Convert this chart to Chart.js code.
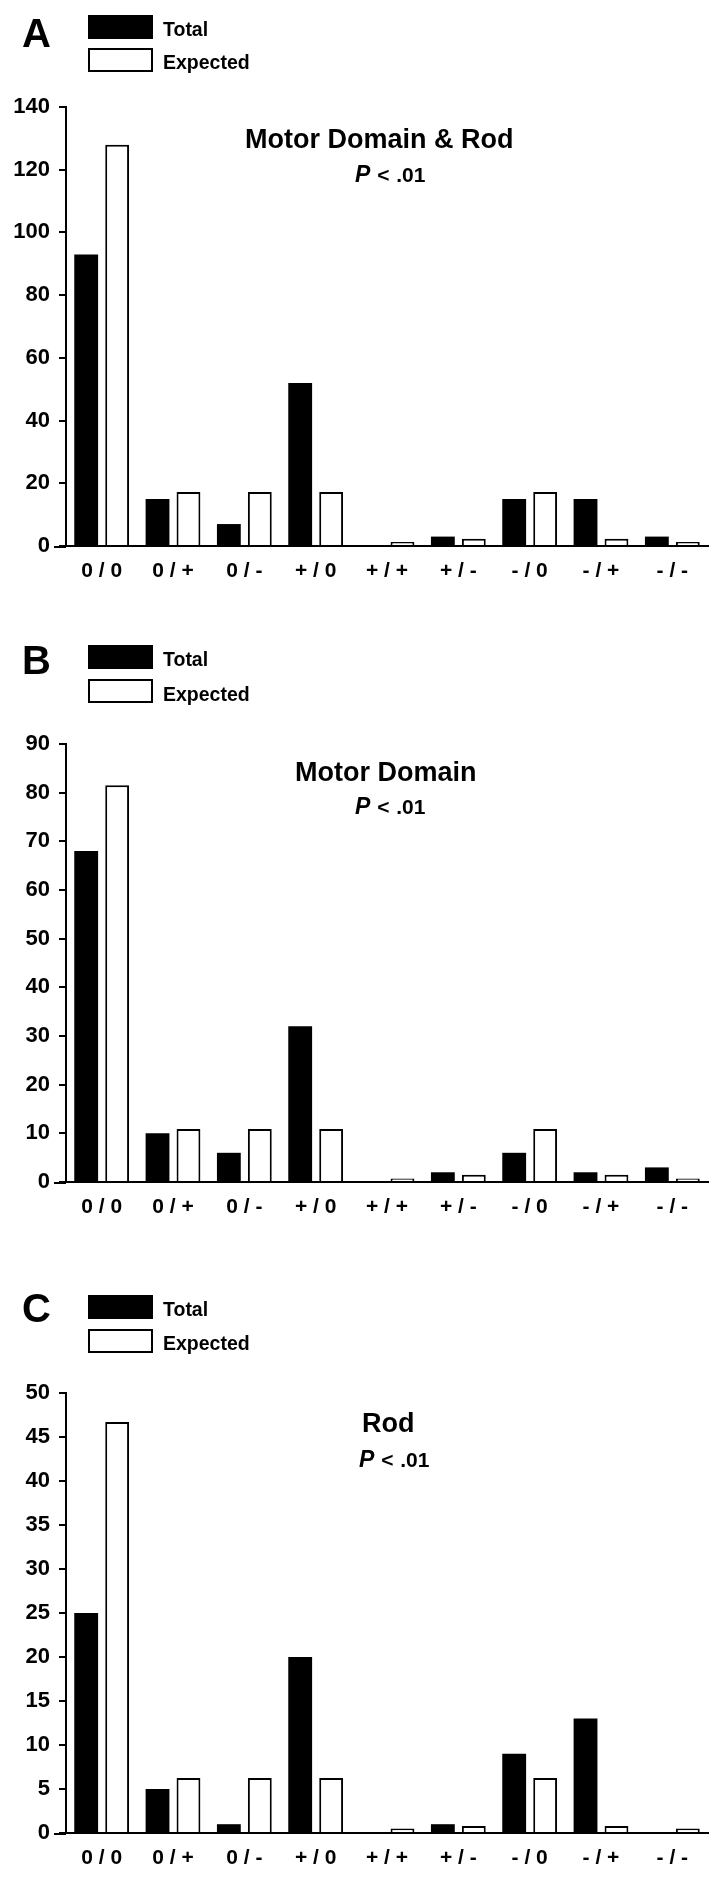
<!DOCTYPE html>
<html>
<head>
<meta charset="utf-8">
<title>Total vs Expected</title>
<script src="https://cdn.jsdelivr.net/npm/chart.js@4.4.0/dist/chart.umd.min.js"></script>
<style>
    body { margin: 0; background: #fff; }
    #page { position: relative; width: 726px; height: 1880px; overflow: hidden; font-family: "Liberation Sans", Arial, sans-serif; color: #000; }
    canvas { position: absolute; left: 0; }
    .txt { position: absolute; line-height: 1; font-weight: bold; white-space: nowrap; }
    .letter { font-size: 40px; }
    .legtxt { font-size: 19.5px; }
    .title { font-size: 27px; }
    .pval { font-size: 21px; word-spacing: 1px; }
    .pval i { font-size: 23px; line-height: 1; }
    .box { position: absolute; left: 88px; width: 65px; height: 24px; box-sizing: border-box; border: 2px solid #000; background: #fff; }
    .box.fill { background: #000; }
</style>
</head>
<body>
<div id="page">
    <canvas id="chartA" width="726" height="620" style="top:0px"></canvas>
    <canvas id="chartB" width="726" height="630" style="top:620px"></canvas>
    <canvas id="chartC" width="726" height="630" style="top:1250px"></canvas>

    <!-- panel A -->
    <div class="txt letter" style="left:22px; top:13px">A</div>
    <div class="box fill" style="top:15px"></div>
    <div class="box" style="top:48px"></div>
    <div class="txt legtxt" style="left:163px; top:20px">Total</div>
    <div class="txt legtxt" style="left:163px; top:53px">Expected</div>
    <div class="txt title" style="left:245px; top:126px">Motor Domain &amp; Rod</div>
    <div class="txt pval" style="left:355px; top:163px"><i>P</i> &lt; .01</div>

    <!-- panel B -->
    <div class="txt letter" style="left:22px; top:640px">B</div>
    <div class="box fill" style="top:645px"></div>
    <div class="box" style="top:679px"></div>
    <div class="txt legtxt" style="left:163px; top:650px">Total</div>
    <div class="txt legtxt" style="left:163px; top:685px">Expected</div>
    <div class="txt title" style="left:295px; top:759px">Motor Domain</div>
    <div class="txt pval" style="left:355px; top:795px"><i>P</i> &lt; .01</div>

    <!-- panel C -->
    <div class="txt letter" style="left:22px; top:1288px">C</div>
    <div class="box fill" style="top:1295px"></div>
    <div class="box" style="top:1329px"></div>
    <div class="txt legtxt" style="left:163px; top:1300px">Total</div>
    <div class="txt legtxt" style="left:163px; top:1334px">Expected</div>
    <div class="txt title" style="left:362px; top:1410px">Rod</div>
    <div class="txt pval" style="left:359px; top:1448px"><i>P</i> &lt; .01</div>
</div>

<script>
// categories (direction change: motor domain / rod)
const categories = ["0 / 0", "0 / +", "0 / -", "+ / 0", "+ / +", "+ / -", "- / 0", "- / +", "- / -"];

// A: Motor Domain & Rod
const totalA = [93, 15, 7, 52, 0, 3, 15, 15, 3];
const expectedA = [128, 17.2, 17.2, 17.2, 1.3, 2.3, 17.2, 2.3, 1.3];
const yTicksA = [0, 20, 40, 60, 80, 100, 120, 140];

// B: Motor Domain
const totalB = [68, 10, 6, 32, 0, 2, 6, 2, 3];
const expectedB = [81.5, 10.9, 10.9, 10.9, 0.7, 1.5, 10.9, 1.5, 0.7];
const yTicksB = [0, 10, 20, 30, 40, 50, 60, 70, 80, 90];

// C: Rod
const totalC = [25, 5, 1, 20, 0, 1, 9, 13, 0];
const expectedC = [46.7, 6.25, 6.25, 6.25, 0.5, 0.8, 6.25, 0.8, 0.5];
const yTicksC = [0, 5, 10, 15, 20, 25, 30, 35, 40, 45, 50];

const fontFamily = '"Liberation Sans", Arial, sans-serif';

// short piece of the x axis that sticks out left of the y axis
const axisStub = {
    id: "axisStub",
    afterDraw(chart) {
        const { ctx, chartArea } = chart;
        ctx.save();
        ctx.strokeStyle = "#000";
        ctx.lineWidth = 2;
        ctx.beginPath();
        ctx.moveTo(chartArea.left - 12, Math.round(chartArea.bottom) + 1);
        ctx.lineTo(chartArea.left, Math.round(chartArea.bottom) + 1);
        ctx.stroke();
        ctx.restore();
    }
};

function makeChart(canvasId, total, expected, yTicks, padTop, padBottom) {
    const ctx = document.getElementById(canvasId).getContext("2d");
    const yMax = yTicks[yTicks.length - 1];
    const step = yTicks[1] - yTicks[0];

    return new Chart(ctx, {
        type: "bar",
        data: {
            labels: categories,
            datasets: [{
                label: "Total",
                data: total,
                backgroundColor: "#000",
                borderWidth: 0,
                categoryPercentage: 0.868,
                barPercentage: 0.77
            }, {
                label: "Expected",
                data: expected,
                backgroundColor: "#fff",
                borderColor: "#000",
                borderWidth: 2,
                borderSkipped: "start",
                categoryPercentage: 0.868,
                barPercentage: 0.77
            }]
        },
        options: {
            responsive: false,
            animation: false,
            devicePixelRatio: 1,
            layout: {
                padding: { left: 0, right: 18, top: padTop, bottom: padBottom }
            },
            plugins: {
                legend: { display: false },
                tooltip: { enabled: false }
            },
            scales: {
                x: {
                    grid: { display: false },
                    border: { display: true, color: "#000", width: 2 },
                    ticks: {
                        color: "#000",
                        font: { family: fontFamily, size: 21, weight: "bold" },
                        padding: 5,
                        maxRotation: 0,
                        autoSkip: false
                    },
                    afterFit(scale) { scale.height = 40; }
                },
                y: {
                    min: 0,
                    max: yMax,
                    ticks: {
                        stepSize: step,
                        color: "#000",
                        font: { family: fontFamily, size: 22, weight: "bold" },
                        padding: 9
                    },
                    grid: { drawOnChartArea: false, color: "#000", lineWidth: 2, tickLength: 7 },
                    border: { color: "#000", width: 2 },
                    afterFit(scale) { scale.width = 66; }
                }
            }
        },
        plugins: [axisStub]
    });
}

makeChart("chartA", totalA, expectedA, yTicksA, 107, 34);
makeChart("chartB", totalB, expectedB, yTicksB, 124, 28);
makeChart("chartC", totalC, expectedC, yTicksC, 143, 7);
</script>
</body>
</html>
